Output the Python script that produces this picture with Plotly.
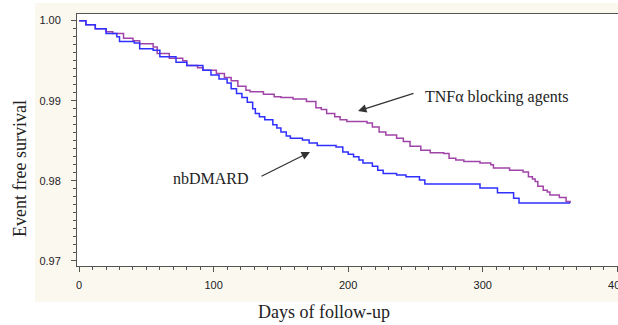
import plotly.graph_objects as go

# nbDMARD (blue) Kaplan-Meier step points
nb_days = [0, 5, 12, 20, 28, 30, 41, 45, 55, 60, 72, 80, 92, 98, 104, 110, 113, 117, 121,
           125, 129, 131, 134, 138, 144, 147, 150, 154, 157, 166, 171, 177, 191, 196, 200,
           204, 208, 211, 218, 222, 226, 236, 243, 253, 257, 298, 311, 323, 327, 365]
nb_surv = [1.0000, 0.9995, 0.9990, 0.9984, 0.9980, 0.9974, 0.9972, 0.9965, 0.9963, 0.9955,
           0.9948, 0.9944, 0.9938, 0.9932, 0.9927, 0.9922, 0.9915, 0.9909, 0.9904, 0.9898,
           0.9890, 0.9884, 0.9880, 0.9876, 0.9870, 0.9866, 0.9861, 0.9856, 0.9853, 0.9851,
           0.9847, 0.9844, 0.9842, 0.9836, 0.9833, 0.9830, 0.9826, 0.9822, 0.9818, 0.9813,
           0.9809, 0.9807, 0.9805, 0.9801, 0.9796, 0.9791, 0.9785, 0.9778, 0.9772, 0.9772]

# TNF-alpha blocking agents (purple)
tnf_days = [0, 5, 12, 20, 25, 33, 40, 45, 55, 58, 67, 77, 80, 88, 92, 102, 108, 113, 118,
            124, 127, 137, 145, 150, 159, 169, 176, 180, 184, 190, 194, 199, 214, 218, 223,
            228, 236, 241, 246, 254, 261, 271, 275, 280, 286, 298, 306, 308, 320, 330, 334,
            337, 339, 341, 345, 348, 350, 357, 362, 365]
tnf_surv = [1.0000, 0.9995, 0.9990, 0.9986, 0.9984, 0.9978, 0.9975, 0.9971, 0.9967, 0.9959,
            0.9953, 0.9950, 0.9944, 0.9941, 0.9938, 0.9934, 0.9929, 0.9925, 0.9918, 0.9913,
            0.9911, 0.9908, 0.9905, 0.9904, 0.9902, 0.9899, 0.9891, 0.9889, 0.9884, 0.9880,
            0.9876, 0.9874, 0.9872, 0.9867, 0.9861, 0.9857, 0.9853, 0.9849, 0.9843, 0.9838,
            0.9835, 0.9834, 0.9828, 0.9826, 0.9824, 0.9822, 0.9820, 0.9816, 0.9813, 0.9811,
            0.9805, 0.9802, 0.9799, 0.9793, 0.9788, 0.9786, 0.9782, 0.9779, 0.9774, 0.9772]

x_tick_step = 100
x_minor_step = 10
y_tick_step = 0.01
y_minor_step = 0.001

W, H = 618, 325
L, R, T, B = 77, 618, 14, 266  # plot area in pixels


def px(x):
    return (x - L) / (R - L)


def py(y):
    return (B - y) / (B - T)


fig = go.Figure()
fig.add_trace(go.Scatter(x=tnf_days, y=tnf_surv, mode="lines", line_shape="hv",
                         line=dict(color="#a044a8", width=1.5), showlegend=False))
fig.add_trace(go.Scatter(x=nb_days, y=nb_surv, mode="lines", line_shape="hv",
                         line=dict(color="#2f2fff", width=1.5), showlegend=False))

serif = "Liberation Serif, Times New Roman, serif"
sans = "Liberation Sans, Arial, sans-serif"

shapes = [
    # white regions outside the cream panel
    dict(type="rect", xref="paper", yref="paper", x0=px(0), x1=px(W), y0=py(302), y1=py(H),
         fillcolor="white", line_width=0, layer="below"),
    dict(type="rect", xref="paper", yref="paper", x0=px(0), x1=px(35), y0=py(H), y1=py(0),
         fillcolor="white", line_width=0, layer="below"),
    dict(type="rect", xref="paper", yref="paper", x0=px(0), x1=px(W), y0=py(3), y1=py(0),
         fillcolor="white", line_width=0, layer="below"),
]

annotations = [
    dict(text="TNFα blocking agents", xref="paper", yref="paper", x=px(423), y=py(97),
         xanchor="left", yanchor="middle", showarrow=False,
         font=dict(family=serif, size=16, color="#222")),
    dict(text="nbDMARD", xref="paper", yref="paper", x=px(211), y=py(178),
         xanchor="center", yanchor="middle", showarrow=False,
         font=dict(family=serif, size=16, color="#222")),
    dict(text="", xref="paper", yref="paper", x=px(358), y=py(111),
         axref="pixel", ayref="pixel", ax=57, ay=-18, showarrow=True,
         arrowhead=2, arrowsize=1.3, arrowwidth=1.3, arrowcolor="#333"),
    dict(text="", xref="paper", yref="paper", x=px(310), y=py(152),
         axref="pixel", ayref="pixel", ax=-50, ay=25, showarrow=True,
         arrowhead=2, arrowsize=1.3, arrowwidth=1.3, arrowcolor="#333"),
    dict(text="Days of follow-up", xref="paper", yref="paper", x=px(324), y=py(312),
         xanchor="center", yanchor="middle", showarrow=False,
         font=dict(family=serif, size=18, color="#222")),
    dict(text="Event free survival", xref="paper", yref="paper", x=px(20), y=py(169),
         xanchor="center", yanchor="middle", showarrow=False, textangle=-90,
         font=dict(family=serif, size=18, color="#222")),
]

fig.update_layout(
    width=W, height=H,
    margin=dict(l=L, r=W - R, t=T, b=H - B, pad=0),
    paper_bgcolor="#fbf8f0", plot_bgcolor="white",
    shapes=shapes, annotations=annotations,
    showlegend=False,
)

fig.update_xaxes(
    range=[-1.6, 400.6], tickmode="linear", tick0=0, dtick=x_tick_step,
    ticks="outside", ticklen=5, tickcolor="#555", tickwidth=1,
    showline=True, linecolor="#555", linewidth=1, mirror=True,
    showgrid=False, zeroline=False, ticklabelstandoff=4, ticklabeloverflow="allow",
    automargin=False,
    tickfont=dict(family=sans, size=11, color="#222"),
    minor=dict(dtick=x_minor_step, tick0=0, ticks="outside", ticklen=3, tickcolor="#555",
               showgrid=False),
)
fig.update_yaxes(
    range=[0.96934, 1.00083], tickmode="linear", tick0=0.97, dtick=y_tick_step,
    tickformat=".2f",
    ticks="outside", ticklen=5, tickcolor="#555", tickwidth=1,
    showline=True, linecolor="#555", linewidth=1,
    showgrid=False, zeroline=False, ticklabelstandoff=8, automargin=False,
    tickfont=dict(family=sans, size=11, color="#222"),
    minor=dict(dtick=y_minor_step, tick0=0.97, ticks="outside", ticklen=3, tickcolor="#555",
               showgrid=False),
)

fig.write_html("out.html")
